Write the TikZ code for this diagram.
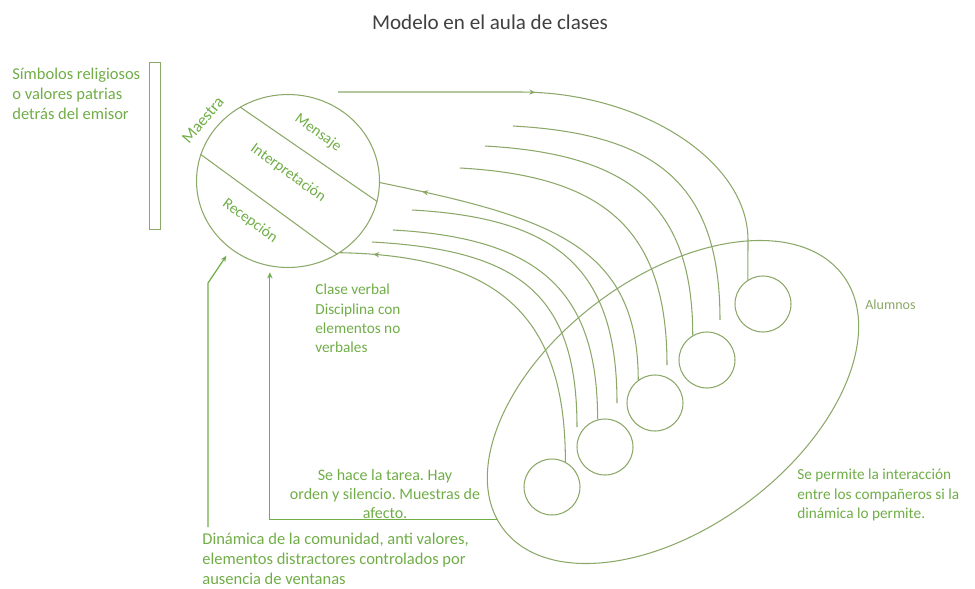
\documentclass[tikz,border=0pt]{standalone}
\usepackage{fontspec}
\setmainfont{Carlito}
\usetikzlibrary{arrows.meta,shapes.geometric,decorations.markings}
\definecolor{verde}{RGB}{112,173,71}
\definecolor{trazo}{RGB}{140,168,104}
\definecolor{gris}{RGB}{64,64,64}
\frenchspacing

\begin{document}
\begin{tikzpicture}[x=0.02cm,y=-0.02cm,
    linea/.style={draw=trazo,line width=0.6pt},
    nota/.style={text=verde,inner sep=0pt,align=left,font=\fontsize{8.7}{11}\selectfont},
    grande/.style={font=\fontsize{9.4}{11.2}\selectfont},
    alumno/.style={linea,circle,minimum size=1.12cm,inner sep=0pt},
    flechaida/.style={postaction={decorate},decoration={markings,
      mark=at position #1 with {\arrow{Stealth[length=3.5pt,width=3pt]}}}},
    flechavuelta/.style={postaction={decorate},decoration={markings,
      mark=at position #1 with {\arrowreversed{Stealth[length=3.5pt,width=3pt]}}}},
    retorno/.style={draw=verde,line width=0.7pt,-{Stealth[length=3.5pt,width=3pt]}}]
  \useasboundingbox (0,0) rectangle (975,589);
  \node[text=gris,font=\fontsize{12}{14}\selectfont] (titulo) at (490,22) {Modelo en el aula de clases};

  % emisor
  \node[nota,grande,anchor=north west] (simbolos) at (12,68) {Símbolos religiosos\\ o valores patrias\\ detrás del emisor};
  \node[linea,minimum width=0.22cm,minimum height=3.34cm,inner sep=0pt] (fondo) at (155,146) {};
  \node[linea,ellipse,minimum width=3.66cm,minimum height=3.46cm,inner sep=0pt] (maestra) at (288,181) {};
  \draw[linea] (maestra.123) -- (maestra.-13);
  \draw[linea] (maestra.163) -- (maestra.-56);
  \node[nota,grande,rotate=50] (lmaestra) at (203,120) {Maestra};
  \node[nota,rotate=-36] (lmensaje) at (318,133) {Mensaje};
  \node[nota,rotate=-36] (linterp) at (288,173) {Interpretación};
  \node[nota,rotate=-36] (lrecep) at (250,221) {Recepción};

  % alumnos
  \node[linea,ellipse,minimum width=8.48cm,minimum height=5cm,inner sep=0pt,rotate=36.7] (grupo) at (673,402) {};
  \node[alumno] (a1) at (763,304) {};
  \node[alumno] (a2) at (707,360) {};
  \node[alumno] (a3) at (655,403) {};
  \node[alumno] (a4) at (605,447) {};
  \node[alumno] (a5) at (552,487) {};
  \node[text=trazo,font=\fontsize{8}{10}\selectfont,anchor=west,inner sep=0pt] (lalumnos) at (865,305) {Alumnos};

  % mensajes hacia los alumnos
  \coordinate (s1) at (338,92); \coordinate (k1) at (520,92); \coordinate (c1) at (748,240);
  \draw[linea,flechaida=3.95cm] (s1) -- (k1) .. controls +(120,0) and +(0,-80) .. (c1) -- (a1.122);
  \foreach \i/\sx/\sy/\ex/\ey in {2/513/126/720/320, 4/460/168/667/365, 6/412/210/617/403, 8/372/242/577/427}
    {\coordinate (s\i) at (\sx,\sy); \coordinate (e\i) at (\ex,\ey);
     \draw[linea] (s\i) .. controls +(145,8) and +(0,-135) .. (e\i);}
  \coordinate (s3) at (485,146); \coordinate (s7) at (393,230);
  \draw[linea] (s3) .. controls +(145,8) and +(0,-130) .. (a2.120);
  \draw[linea,flechavuelta=0.86cm] (maestra.-1) .. controls +(170,35) and +(0,-135) .. (a3.126);
  \draw[linea] (s7) .. controls +(145,8) and +(0,-130) .. (a4.105);
  \draw[linea,flechavuelta=0.66cm] (maestra.-54) .. controls +(160,3) and +(0,-145) .. (a5.62);

  % textos
  \node[nota,anchor=north west] (clase) at (315,284) {Clase verbal\\ Disciplina con\\ elementos no\\ verbales};
  \node[nota,font=\fontsize{9.1}{10.8}\selectfont,align=center,anchor=north] (tarea) at (385,469) {Se hace la tarea. Hay\\ orden y silencio. Muestras de\\ afecto.};
  \node[nota,anchor=north west] (permite) at (797,469) {Se permite la interacción\\ entre los compañeros si la\\ dinámica lo permite.};
  \node[nota,grande,anchor=north west] (dinamica) at (202,533) {Dinámica de la comunidad, anti valores,\\ elementos distractores controlados por\\ ausencia de ventanas};

  % retornos al emisor
  \coordinate (d1) at (208,283);
  \draw[retorno,shorten <=0.12cm,shorten >=0.16cm] (dinamica.north west -| d1) -- (d1) -- (maestra.-130);
  \draw[retorno,shorten >=0.12cm] (grupo.177.5) -| (maestra.-102);
\end{tikzpicture}
\end{document}
